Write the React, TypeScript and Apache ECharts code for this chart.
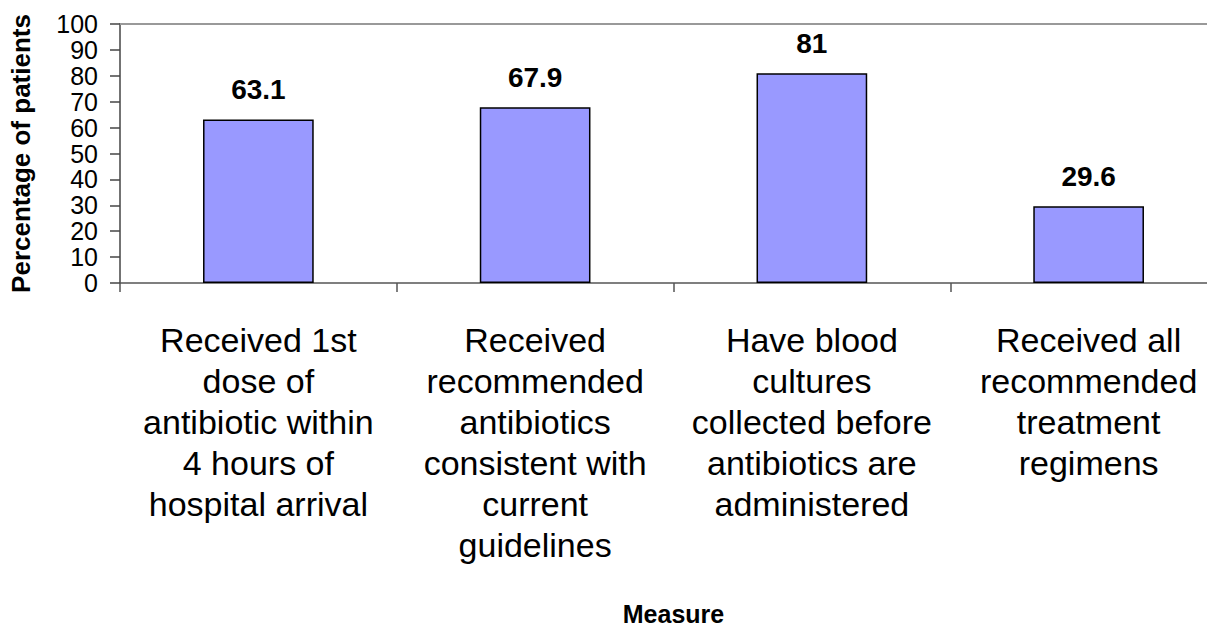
import React, { useEffect, useRef } from "react";
import * as echarts from "echarts";

const categories = [
  "Received 1st\ndose of\nantibiotic within\n4 hours of\nhospital arrival",
  "Received\nrecommended\nantibiotics\nconsistent with\ncurrent\nguidelines",
  "Have blood\ncultures\ncollected before\nantibiotics are\nadministered",
  "Received all\nrecommended\ntreatment\nregimens",
];
const values = [63.1, 67.9, 81, 29.6];
const yTicks = { min: 0, max: 100, interval: 10 };

const FONT = "'Liberation Sans', Arial, Helvetica, sans-serif";

export default function App() {
  const ref = useRef<HTMLDivElement>(null);
  useEffect(() => {
    if (!ref.current) return;
    const chart = echarts.init(ref.current, undefined, { renderer: "svg" });
    chart.setOption({
      animation: false,
      backgroundColor: "#ffffff",
      grid: { left: 119, top: 24, width: 1108, height: 268, containLabel: false },
      xAxis: [
        {
          type: "category",
          data: categories,
          position: "bottom",
          name: "Measure",
          nameLocation: "middle",
          nameGap: 318,
          nameTextStyle: { fontFamily: FONT, fontSize: 25, fontWeight: "bold", color: "#000" },
          axisLine: { show: true, lineStyle: { color: "#555", width: 1.5 } },
          axisTick: { show: true, length: 9, alignWithLabel: false, lineStyle: { color: "#555", width: 1.5 } },
          axisLabel: {
            interval: 0,
            margin: 36,
            fontFamily: FONT,
            fontSize: 34,
            lineHeight: 41,
            color: "#000",
            align: "center",
            verticalAlign: "top",
          },
          splitLine: { show: false },
        },
        {
          type: "category",
          data: categories,
          position: "top",
          axisLine: { show: true, lineStyle: { color: "#999", width: 2 } },
          axisTick: { show: false },
          axisLabel: { show: false },
          splitLine: { show: false },
        },
      ],
      yAxis: {
        type: "value",
        min: yTicks.min,
        max: yTicks.max,
        interval: yTicks.interval,
        name: "Percentage of patients",
        nameLocation: "middle",
        nameGap: 86,
        nameTextStyle: { fontFamily: FONT, fontSize: 26, fontWeight: "bold", color: "#000" },
        axisLine: { show: true, lineStyle: { color: "#444", width: 1.5 } },
        axisTick: { show: true, inside: false, length: 10, lineStyle: { color: "#444", width: 1.5 } },
        axisLabel: { fontFamily: FONT, fontSize: 25, color: "#000", margin: 22 },
        splitLine: { show: false },
      },
      series: [
        {
          type: "bar",
          data: values,
          xAxisIndex: 0,
          barCategoryGap: "60%",
          itemStyle: { color: "#9999FF", borderColor: "#000", borderWidth: 1.5 },
          label: {
            show: true,
            position: "top",
            distance: 16,
            fontFamily: FONT,
            fontSize: 28,
            fontWeight: "bold",
            color: "#000",
          },
        },
      ],
    });
    return () => chart.dispose();
  }, []);
  return (
    <div
      style={{
        position: "fixed",
        left: 0,
        top: 0,
        width: 1207,
        height: 627,
        overflow: "hidden",
        background: "#fff",
      }}
    >
      <div ref={ref} style={{ width: 1245, height: 627 }} />
    </div>
  );
}
